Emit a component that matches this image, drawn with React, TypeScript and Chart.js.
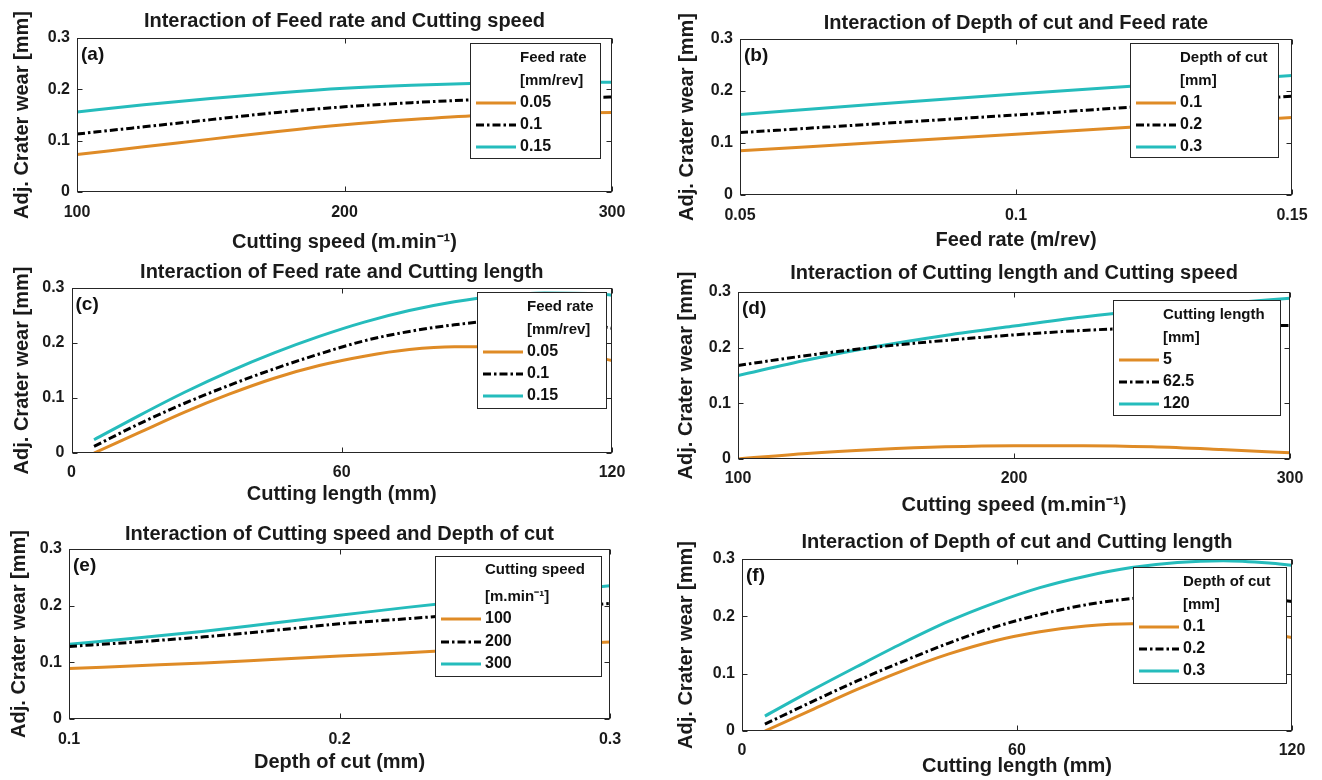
import React, { useEffect, useRef } from 'react';
import { Chart, registerables } from 'chart.js';

Chart.register(...registerables);

const FONT = '"Liberation Sans", Arial, Helvetica, sans-serif';
const W = 1322;
const H = 780;
const ORANGE = '#DF8B26';
const BLACK = '#000000';
const CYAN = '#25BCBC';
const DASHDOT = [8, 3, 2.5, 3];
const TITLE_SIZE = 20;
const AXIS_SIZE = 20;
const TICK_SIZE = 16;

const yTicks = [0, 0.1, 0.2, 0.3];
const yTickLabels = ['0', '0.1', '0.2', '0.3'];
const yTitle = 'Adj. Crater wear [mm]';

// (a) Feed rate x Cutting speed
const speedA = [100, 125, 150, 175, 200, 225, 250, 275, 300];
const aFeed005 = [0.073, 0.088, 0.103, 0.118, 0.131, 0.141, 0.149, 0.153, 0.155];
const aFeed010 = [0.113, 0.127, 0.141, 0.155, 0.166, 0.174, 0.18, 0.183, 0.185];
const aFeed015 = [0.156, 0.17, 0.182, 0.193, 0.202, 0.208, 0.212, 0.214, 0.214];

// (b) Depth of cut x Feed rate
const feedB = [0.05, 0.075, 0.1, 0.125, 0.15];
const bDoc01 = [0.085, 0.101, 0.117, 0.133, 0.149];
const bDoc02 = [0.12, 0.137, 0.154, 0.172, 0.19];
const bDoc03 = [0.155, 0.175, 0.194, 0.212, 0.23];

// (c) Feed rate x Cutting length
const lengthC = [5, 15, 25, 35, 45, 55, 65, 75, 85, 95, 105, 115, 120];
const cFeed005 = [0.0, 0.037, 0.074, 0.107, 0.136, 0.159, 0.176, 0.188, 0.193, 0.193, 0.188, 0.177, 0.168];
const cFeed010 = [0.012, 0.053, 0.09, 0.123, 0.153, 0.18, 0.204, 0.221, 0.233, 0.24, 0.24, 0.233, 0.227];
const cFeed015 = [0.024, 0.068, 0.11, 0.148, 0.182, 0.212, 0.238, 0.259, 0.275, 0.286, 0.291, 0.29, 0.287];

// (d) Cutting length x Cutting speed
const speedD = [100, 125, 150, 175, 200, 225, 250, 275, 300];
const dLen5 = [0.0, 0.01, 0.017, 0.022, 0.024, 0.024, 0.022, 0.017, 0.011];
const dLen625 = [0.168, 0.186, 0.201, 0.213, 0.223, 0.231, 0.236, 0.239, 0.24];
const dLen120 = [0.15, 0.178, 0.202, 0.222, 0.239, 0.255, 0.268, 0.279, 0.289];

// (e) Cutting speed x Depth of cut
const depthE = [0.1, 0.125, 0.15, 0.175, 0.2, 0.225, 0.25, 0.275, 0.3];
const eSpeed100 = [0.089, 0.094, 0.099, 0.105, 0.111, 0.117, 0.123, 0.13, 0.136];
const eSpeed200 = [0.128, 0.136, 0.145, 0.156, 0.168, 0.177, 0.186, 0.195, 0.204];
const eSpeed300 = [0.132, 0.143, 0.155, 0.169, 0.183, 0.197, 0.21, 0.223, 0.235];

// (f) Depth of cut x Cutting length
const lengthF = [5, 15, 25, 35, 45, 55, 65, 75, 85, 95, 105, 115, 120];
const fDoc01 = [0.0, 0.036, 0.072, 0.105, 0.134, 0.157, 0.173, 0.183, 0.187, 0.186, 0.181, 0.17, 0.163];
const fDoc02 = [0.012, 0.05, 0.087, 0.121, 0.153, 0.181, 0.203, 0.22, 0.231, 0.237, 0.237, 0.231, 0.226];
const fDoc03 = [0.026, 0.07, 0.112, 0.153, 0.191, 0.223, 0.25, 0.27, 0.285, 0.294, 0.297, 0.293, 0.289];

const speedTicks = [100, 200, 300];
const speedTickLabels = ['100', '200', '300'];
const feedTicks = [0.05, 0.1, 0.15];
const feedTickLabels = ['0.05', '0.1', '0.15'];
const lengthTicks = [0, 60, 120];
const lengthTickLabels = ['0', '60', '120'];
const depthTicks = [0.1, 0.2, 0.3];
const depthTickLabels = ['0.1', '0.2', '0.3'];

type Series = { label: string; ys: number[]; color: string; dash: number[] };
type Panel = {
  tag: string;
  title: string;
  xTitle: string;
  xs: number[];
  xMin: number;
  xMax: number;
  xTicks: number[];
  xTickLabels: string[];
  series: Series[];
  header: string[];
  plot: { l: number; t: number; r: number; b: number };
  titleY: number;
  yTitleX: number;
  xTitleY: number;
  xTickPad: number;
  legend: { x: number; y: number; w: number; h: number; rows: number[] };
};

const rowsStd = [15, 38, 60, 82, 104];
const rowsE = [14, 41, 63, 86, 108];

const panels: Panel[] = [
  {
    tag: '(a)',
    title: 'Interaction of Feed rate and Cutting speed',
    xTitle: 'Cutting speed (m.min\u207B\u00B9)',
    xs: speedA, xMin: 100, xMax: 300, xTicks: speedTicks, xTickLabels: speedTickLabels,
    series: [
      { label: '0.05', ys: aFeed005, color: ORANGE, dash: [] },
      { label: '0.1', ys: aFeed010, color: BLACK, dash: DASHDOT },
      { label: '0.15', ys: aFeed015, color: CYAN, dash: [] },
    ],
    header: ['Feed rate', '[mm/rev]'],
    plot: { l: 77, t: 38, r: 612, b: 192 },
    titleY: 21, yTitleX: 22, xTitleY: 242, xTickPad: 11,
    legend: { x: 470, y: 43, w: 130, h: 115, rows: rowsStd },
  },
  {
    tag: '(b)',
    title: 'Interaction of Depth of cut and Feed rate',
    xTitle: 'Feed rate (m/rev)',
    xs: feedB, xMin: 0.05, xMax: 0.15, xTicks: feedTicks, xTickLabels: feedTickLabels,
    series: [
      { label: '0.1', ys: bDoc01, color: ORANGE, dash: [] },
      { label: '0.2', ys: bDoc02, color: BLACK, dash: DASHDOT },
      { label: '0.3', ys: bDoc03, color: CYAN, dash: [] },
    ],
    header: ['Depth of cut', '[mm]'],
    plot: { l: 740, t: 39, r: 1292, b: 195 },
    titleY: 23, yTitleX: 687, xTitleY: 240, xTickPad: 11,
    legend: { x: 1130, y: 43, w: 148, h: 114, rows: rowsStd },
  },
  {
    tag: '(c)',
    title: 'Interaction of Feed rate and Cutting length',
    xTitle: 'Cutting length (mm)',
    xs: lengthC, xMin: 0, xMax: 120, xTicks: lengthTicks, xTickLabels: lengthTickLabels,
    series: [
      { label: '0.05', ys: cFeed005, color: ORANGE, dash: [] },
      { label: '0.1', ys: cFeed010, color: BLACK, dash: DASHDOT },
      { label: '0.15', ys: cFeed015, color: CYAN, dash: [] },
    ],
    header: ['Feed rate', '[mm/rev]'],
    plot: { l: 71.5, t: 288, r: 612, b: 453 },
    titleY: 272.5, yTitleX: 22, xTitleY: 494, xTickPad: 10,
    legend: { x: 477, y: 292, w: 129, h: 116, rows: rowsStd },
  },
  {
    tag: '(d)',
    title: 'Interaction of Cutting length and Cutting speed',
    xTitle: 'Cutting speed (m.min\u207B\u00B9)',
    xs: speedD, xMin: 100, xMax: 300, xTicks: speedTicks, xTickLabels: speedTickLabels,
    series: [
      { label: '5', ys: dLen5, color: ORANGE, dash: [] },
      { label: '62.5', ys: dLen625, color: BLACK, dash: DASHDOT },
      { label: '120', ys: dLen120, color: CYAN, dash: [] },
    ],
    header: ['Cutting length', '[mm]'],
    plot: { l: 738, t: 292, r: 1290, b: 459 },
    titleY: 273, yTitleX: 686, xTitleY: 505, xTickPad: 9.5,
    legend: { x: 1113, y: 300, w: 167, h: 115, rows: rowsStd },
  },
  {
    tag: '(e)',
    title: 'Interaction of Cutting speed and Depth of cut',
    xTitle: 'Depth of cut (mm)',
    xs: depthE, xMin: 0.1, xMax: 0.3, xTicks: depthTicks, xTickLabels: depthTickLabels,
    series: [
      { label: '100', ys: eSpeed100, color: ORANGE, dash: [] },
      { label: '200', ys: eSpeed200, color: BLACK, dash: DASHDOT },
      { label: '300', ys: eSpeed300, color: CYAN, dash: [] },
    ],
    header: ['Cutting speed', '[m.min\u207B\u00B9]'],
    plot: { l: 69, t: 549, r: 610, b: 719 },
    titleY: 534, yTitleX: 19, xTitleY: 762, xTickPad: 11,
    legend: { x: 435, y: 556, w: 166, h: 120, rows: rowsE },
  },
  {
    tag: '(f)',
    title: 'Interaction of Depth of cut and Cutting length',
    xTitle: 'Cutting length (mm)',
    xs: lengthF, xMin: 0, xMax: 120, xTicks: lengthTicks, xTickLabels: lengthTickLabels,
    series: [
      { label: '0.1', ys: fDoc01, color: ORANGE, dash: [] },
      { label: '0.2', ys: fDoc02, color: BLACK, dash: DASHDOT },
      { label: '0.3', ys: fDoc03, color: CYAN, dash: [] },
    ],
    header: ['Depth of cut', '[mm]'],
    plot: { l: 742, t: 559, r: 1292, b: 731 },
    titleY: 542, yTitleX: 686, xTitleY: 766, xTickPad: 9.5,
    legend: { x: 1133, y: 567, w: 153, h: 116, rows: rowsStd },
  },
];

function makeFrame(p: Panel) {
  return {
    id: 'matlabFrame',
    afterDatasetsDraw(chart: any) {
      const { ctx, chartArea: a, scales } = chart;
      ctx.save();
      ctx.strokeStyle = '#262626';
      ctx.lineWidth = 1;
      const L = Math.round(a.left) + 0.5;
      const T = Math.round(a.top) + 0.5;
      const R = Math.round(a.right) - 0.5;
      const B = Math.round(a.bottom) - 0.5;
      ctx.strokeRect(L, T, R - L, B - T);
      const tl = 5;
      ctx.beginPath();
      scales.x.ticks.forEach((tk: any) => {
        const px = Math.round(scales.x.getPixelForValue(tk.value)) + 0.5;
        ctx.moveTo(px, B); ctx.lineTo(px, B - tl);
        ctx.moveTo(px, T); ctx.lineTo(px, T + tl);
      });
      scales.y.ticks.forEach((tk: any) => {
        const py = Math.round(scales.y.getPixelForValue(tk.value)) + 0.5;
        ctx.moveTo(L, py); ctx.lineTo(L + tl, py);
        ctx.moveTo(R, py); ctx.lineTo(R - tl, py);
      });
      ctx.stroke();
      ctx.fillStyle = '#111';
      ctx.font = `bold 19px ${FONT}`;
      ctx.textAlign = 'left';
      ctx.textBaseline = 'middle';
      ctx.fillText(p.tag, a.left + 4, a.top + 17);
      ctx.restore();
    },
  };
}

function makeLegend(p: Panel) {
  return {
    id: 'boxLegend',
    afterDraw(chart: any) {
      const { ctx } = chart;
      const { x, y, w, h, rows } = p.legend;
      ctx.save();
      ctx.fillStyle = '#ffffff';
      ctx.fillRect(x, y, w, h);
      ctx.strokeStyle = '#262626';
      ctx.lineWidth = 1;
      ctx.strokeRect(Math.round(x) + 0.5, Math.round(y) + 0.5, Math.round(w), Math.round(h));
      ctx.fillStyle = '#111';
      ctx.textAlign = 'left';
      ctx.textBaseline = 'middle';
      ctx.font = `bold 15px ${FONT}`;
      p.header.forEach((line, i) => ctx.fillText(line, x + 50, y + rows[i]));
      ctx.font = `bold 16px ${FONT}`;
      chart.data.datasets.forEach((ds: any, i: number) => {
        const yy = y + rows[p.header.length + i];
        ctx.strokeStyle = ds.borderColor;
        ctx.lineWidth = ds.borderWidth;
        ctx.setLineDash(ds.borderDash || []);
        ctx.beginPath();
        ctx.moveTo(x + 6, yy);
        ctx.lineTo(x + 46, yy);
        ctx.stroke();
        ctx.setLineDash([]);
        ctx.fillText(ds.label, x + 50, yy);
      });
      ctx.restore();
    },
  };
}

function buildConfig(p: Panel): any {
  const axisLH = AXIS_SIZE * 1.2;
  const titleLH = TITLE_SIZE * 1.2;
  const { l, t, r, b } = p.plot;
  const yW = l - p.yTitleX + axisLH / 2;
  const xH = p.xTitleY + axisLH / 2 - b;
  const padTop = p.titleY - titleLH / 2;
  const axisFont = { family: FONT, size: AXIS_SIZE, weight: 'bold' as const };
  const tickFont = { family: FONT, size: TICK_SIZE, weight: 'bold' as const };
  return {
    type: 'line',
    data: {
      datasets: p.series.map((s) => ({
        label: s.label,
        data: p.xs.map((x, i) => ({ x, y: s.ys[i] })),
        borderColor: s.color,
        borderDash: s.dash,
        borderWidth: 3,
        pointRadius: 0,
        fill: false,
        cubicInterpolationMode: 'monotone',
      })),
    },
    options: {
      animation: false,
      responsive: false,
      events: [],
      layout: { padding: { left: l - yW, top: padTop, right: W - r, bottom: H - b - xH } },
      plugins: {
        legend: { display: false },
        tooltip: { enabled: false },
        title: {
          display: true,
          text: p.title,
          fullSize: false,
          color: '#1a1a1a',
          font: { family: FONT, size: TITLE_SIZE, weight: 'bold' },
          padding: { top: 0, bottom: t - padTop - titleLH },
        },
      },
      scales: {
        x: {
          type: 'linear',
          min: p.xMin,
          max: p.xMax,
          afterBuildTicks: (s: any) => { s.ticks = p.xTicks.map((v) => ({ value: v })); },
          afterFit: (s: any) => { s.height = xH; },
          grid: { display: false, drawTicks: false },
          border: { display: false },
          ticks: {
            callback: (_v: any, i: number) => p.xTickLabels[i],
            font: tickFont,
            color: '#1a1a1a',
            padding: p.xTickPad,
            maxRotation: 0,
            autoSkip: false,
          },
          title: { display: true, text: p.xTitle, font: axisFont, color: '#1a1a1a', padding: 0 },
        },
        y: {
          type: 'linear',
          min: 0,
          max: 0.3,
          afterBuildTicks: (s: any) => { s.ticks = yTicks.map((v) => ({ value: v })); },
          afterFit: (s: any) => { s.width = yW; },
          grid: { display: false, drawTicks: false },
          border: { display: false },
          ticks: {
            callback: (_v: any, i: number) => yTickLabels[i],
            font: tickFont,
            color: '#1a1a1a',
            padding: 7,
            autoSkip: false,
          },
          title: { display: true, text: yTitle, font: axisFont, color: '#1a1a1a', padding: 0 },
        },
      },
    },
    plugins: [makeFrame(p), makeLegend(p)],
  };
}

function PanelChart({ p }: { p: Panel }) {
  const ref = useRef<HTMLCanvasElement | null>(null);
  useEffect(() => {
    if (!ref.current) return;
    const chart = new Chart(ref.current, buildConfig(p));
    return () => chart.destroy();
  }, [p]);
  return (
    <canvas
      ref={ref}
      width={W}
      height={H}
      style={{ position: 'absolute', left: 0, top: 0, width: W, height: H }}
    />
  );
}

export default function App() {
  return (
    <div style={{ position: 'fixed', left: 0, top: 0, width: W, height: H, background: '#ffffff', overflow: 'hidden' }}>
      {panels.map((p) => (
        <PanelChart key={p.tag} p={p} />
      ))}
    </div>
  );
}
